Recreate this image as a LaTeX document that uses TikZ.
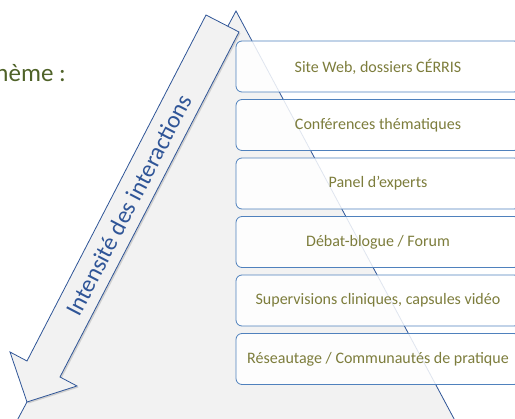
\documentclass[tikz,border=0pt]{standalone}
\usepackage{fontspec}
\setmainfont{Carlito}
\usepackage{tikz}
\usetikzlibrary{positioning}
\usetikzlibrary{shadows}
\definecolor{trifill}{RGB}{242,242,242}
\definecolor{darkblue}{RGB}{47,85,151}
\definecolor{boxblue}{RGB}{79,129,189}
\definecolor{olivetext}{RGB}{125,125,60}
\definecolor{titlegreen}{RGB}{79,98,40}
\tikzset{palier/.style={draw=boxblue, line width=0.8pt, fill=white, fill opacity=0.85, text opacity=1,
  rounded corners=6pt, minimum width=284pt, minimum height=51pt, inner sep=0pt,
  text=olivetext, font=\fontsize{16}{19}\selectfont}}

\begin{document}
\begin{tikzpicture}[x=1pt,y=-1pt]
\useasboundingbox (0,0) rectangle (515,419);
\clip (0,0) rectangle (515,419);
\node[anchor=base east, inner sep=0pt, text=titlegreen, font=\fontsize{25}{29}\selectfont] (theme) at (66,82) {thème :};
% pyramid
\draw[fill=trifill, draw=darkblue, line width=0.8pt] (236,11) -- (460,430) -- (12,430) -- cycle;
% big arrow
\draw[fill=trifill, draw=darkblue, line width=0.8pt,
  drop shadow={shadow xshift=1.5pt, shadow yshift=-1.5pt, opacity=0.3}]
  (206,15) -- (239,32) -- (60,377) -- (77,386) -- (27,402) -- (10,352) -- (27,361) -- cycle;
\node[rotate=62.5, text=darkblue, font=\fontsize{24}{28}\selectfont] (intensite) at (129,205) {Intensité des interactions};
% levels
\foreach \txt [count=\i] in {{Site Web, dossiers CÉRRIS}, Conférences thématiques, Panel d’experts,
  Débat-blogue / Forum, {Supervisions cliniques, capsules vidéo}, Réseautage / Communautés de pratique} {
  \node[palier] (niveau\i) at (378,{66.5+58.5*(\i-1)}) {\txt};
}
\end{tikzpicture}
\end{document}
